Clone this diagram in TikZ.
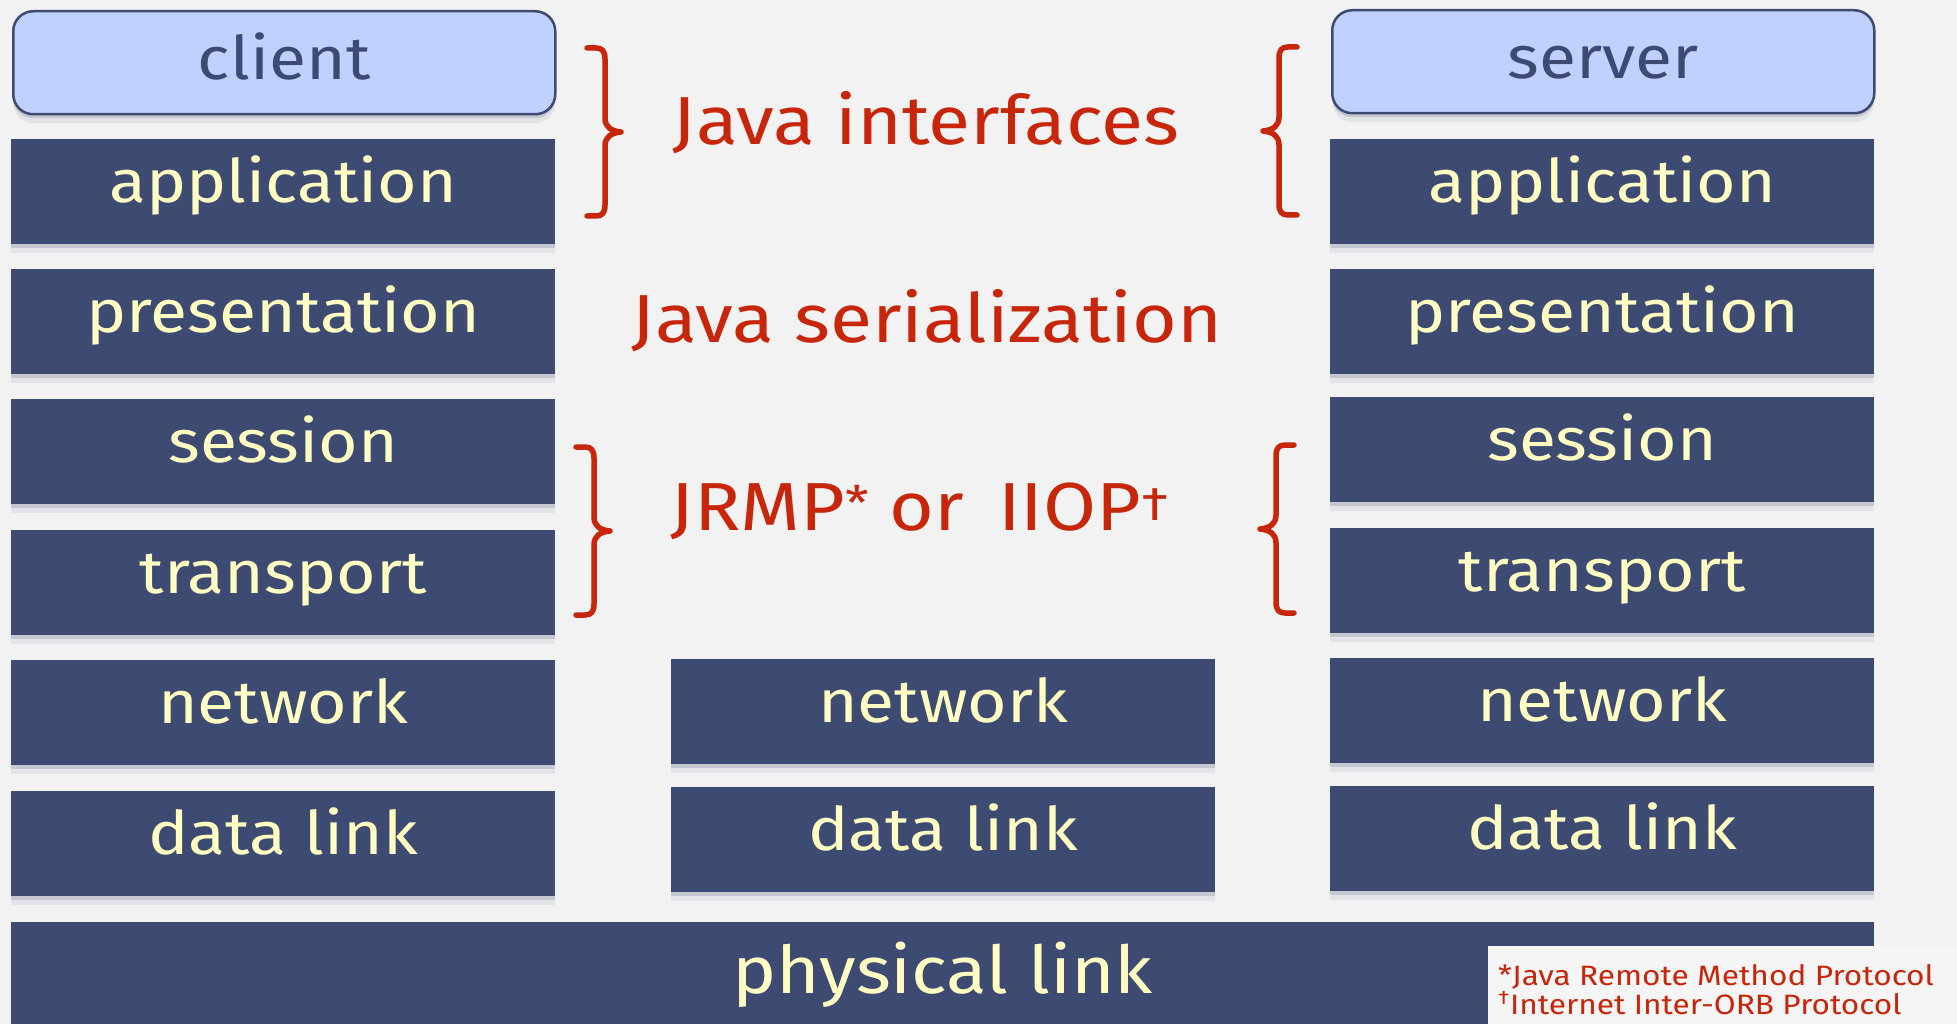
\documentclass[tikz,border=0pt]{standalone}
\usepackage{fontspec}
\setmainfont{Fira Sans}
\newfontfamily\hand[FakeStretch=1.13]{Fira Sans}
\usetikzlibrary{shadows}
\definecolor{boxblue}{HTML}{3D4A72}
\definecolor{paleyellow}{HTML}{FFFDC2}
\definecolor{lightblue}{HTML}{C0D0FF}
\definecolor{javared}{HTML}{C8260A}
\definecolor{pagebg}{HTML}{F2F2F2}
\definecolor{notebg}{HTML}{F5F5F5}
\tikzset{
  softshadow/.style={drop shadow={shadow xshift=0pt,shadow yshift=-4pt,opacity=.18,fill=boxblue},
                     drop shadow={shadow xshift=0pt,shadow yshift=-9pt,opacity=.08,fill=boxblue}},
  layer/.style={rectangle, fill=boxblue, minimum width=544pt, minimum height=105pt, inner sep=0pt,
    text=paleyellow, font=\hand\fontsize{60}{60}\selectfont, text height=40pt, text depth=18pt,
    softshadow, anchor=north west},
  endpoint/.style={rectangle, rounded corners=20pt, draw=boxblue, line width=2.5pt, fill=lightblue,
    minimum width=542pt, minimum height=103pt, inner sep=0pt, text=boxblue,
    font=\hand\fontsize{60}{60}\selectfont, text height=46pt, text depth=12pt, softshadow, anchor=north west},
  redlabel/.style={text=javared, font=\hand\fontsize{68}{68}\selectfont, anchor=base, inner sep=0pt},
  note/.style={text=javared, font=\hand\fontsize{28}{28}\selectfont, anchor=base west, inner sep=0pt},
  bracestyle/.style={draw=javared, line width=5.5pt, line cap=round, line join=round},
  pics/curly/.style={code={
    \draw[bracestyle] (0,0) -- (9,0) .. controls (15,0) and (18,3) .. (18,11) -- (18,70)
      .. controls (18,79) and (24,83) .. (34,84) .. controls (24,85) and (18,89) .. (18,98)
      -- (18,157) .. controls (18,165) and (15,168) .. (9,168) -- (0,168);
  }}
}
\begin{document}
\begin{tikzpicture}[x=1pt,y=-1pt]
\useasboundingbox (0,0) rectangle (1957,1024);
\fill[pagebg] (0,0) rectangle (1957,1024);

% client column
\node[endpoint] (client) at (12,10) {client};
\node[layer] (capp) at (11,139) {application};
\node[layer] (cpres) at (11,269) {presentation};
\node[layer] (csess) at (11,399) {session};
\node[layer] (ctrans) at (11,530) {transport};
\node[layer] (cnet) at (11,660) {network};
\node[layer] (cdl) at (11,791) {data link};

% middle column
\node[layer] (mnet) at (671,659) {network};
\node[layer] (mdl) at (671,787) {data link};

% server column
\node[endpoint] (server) at (1331,9) {server};
\node[layer] (sapp) at (1330,139) {application};
\node[layer] (spres) at (1330,269) {presentation};
\node[layer] (ssess) at (1330,397) {session};
\node[layer] (strans) at (1330,528) {transport};
\node[layer] (snet) at (1330,658) {network};
\node[layer] (sdl) at (1330,786) {data link};

% physical link
\node[layer, minimum width=1863pt, minimum height=110pt, font=\hand\fontsize{66}{66}\selectfont,
      text height=44pt, text depth=12pt] (phys) at (11,922) {physical link};

% braces
\pic at (587,48) {curly};
\pic at (576,447) {curly};
\pic[xscale=-1] at (1297,47) {curly};
\pic[xscale=-1] at (1294,445) {curly};

% protocol labels
\node[redlabel] (jint) at (926,145) {Java interfaces};
\node[redlabel] (jser) at (927,342) {Java serialization};
\node[redlabel] (jrmp) at (920,530) {JRMP\textsuperscript{*} or\enspace IIOP\textsuperscript{†}};

% footnotes
\node[fill=notebg, minimum width=480pt, minimum height=90pt, anchor=north west, inner sep=0pt] (notebox) at (1488,946) {};
\node[note] (n1) at (1498,985) {*Java Remote Method Protocol};
\node[note] (n2) at (1498,1014) {\textsuperscript{†}Internet Inter-ORB Protocol};
\end{tikzpicture}
\end{document}
